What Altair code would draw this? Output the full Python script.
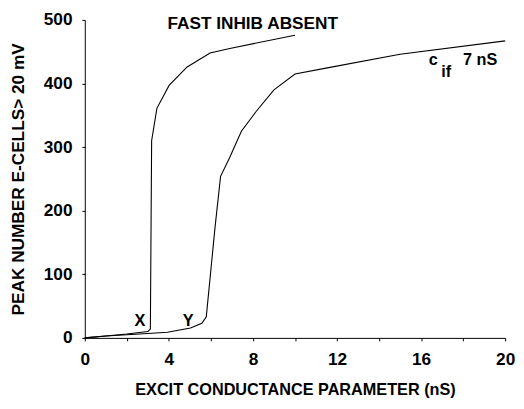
import altair as alt
import pandas as pd

# Curve: fast inhibition absent
x_absent = [0, 1.0, 2.0, 3.0, 3.12, 3.18, 3.43, 4.01, 4.87, 5.96, 6.9, 10.0]
y_absent = [0, 3, 6, 10, 14, 310, 361, 397, 426, 448, 455, 476]

# Curve: c_if = 7 nS
x_cif = [0, 1.0, 2.0, 3.0, 3.93, 5.03, 5.57, 5.78, 6.2, 6.46, 6.9, 7.45, 8.15, 9.0, 10.0, 11.6, 15.0, 20.0]
y_cif = [0, 3, 5, 7, 8.8, 15.5, 23, 33, 175, 254, 284, 325, 356, 390, 415, 425, 446, 467]

x_ticks = [0, 2, 4, 6, 8, 10, 12, 14, 16, 18, 20]
y_ticks = [0, 50, 100, 150, 200, 250, 300, 350, 400, 450, 500]

labels_text = ["FAST INHIB ABSENT", "X", "Y", "c", "7 nS"]
labels_x = [3.93, 2.62, 4.92, 16.58, 17.99]
labels_y = [486, 18.6, 18.6, 428.8, 428.8]
labels_align = ["left", "center", "center", "center", "left"]
labels_size = [17.5, 16.5, 16.5, 16.5, 16.5]

sub_text = ["if"]
sub_x = [17.19]
sub_y = [410]

FONT = "Liberation Sans"

df = pd.concat([
    pd.DataFrame({"x": x_absent, "y": y_absent, "curve": "absent"}),
    pd.DataFrame({"x": x_cif, "y": y_cif, "curve": "cif"}),
])

xs = alt.Scale(domain=[0, 20], nice=False, zero=False)
ys = alt.Scale(domain=[0, 500], nice=False, zero=False)

lines = alt.Chart(df).mark_line(color="black", strokeWidth=1.1).encode(
    x=alt.X("x:Q", scale=xs, title="EXCIT CONDUCTANCE PARAMETER (nS)",
            axis=alt.Axis(values=x_ticks,
                          labelExpr="datum.value % 4 == 0 ? datum.label : ''")),
    y=alt.Y("y:Q", scale=ys, title="PEAK NUMBER E-CELLS> 20 mV",
            axis=alt.Axis(values=y_ticks,
                          labelExpr="datum.value % 100 == 0 ? datum.label : ''")),
    detail="curve:N",
)

lab_df = pd.DataFrame({"t": labels_text, "x": labels_x, "y": labels_y,
                       "a": labels_align, "s": labels_size})
left_df = lab_df[lab_df.a == "left"].reset_index(drop=True)
center_df = lab_df[lab_df.a == "center"].reset_index(drop=True)

text_left = alt.Chart(left_df).mark_text(
    align="left", baseline="alphabetic", font=FONT, fontWeight="bold", color="black"
).encode(x=alt.X("x:Q", scale=xs), y=alt.Y("y:Q", scale=ys), text="t:N",
         size=alt.Size("s:Q", scale=None, legend=None))

text_center = alt.Chart(center_df).mark_text(
    align="center", baseline="alphabetic", font=FONT, fontWeight="bold", color="black"
).encode(x=alt.X("x:Q", scale=xs), y=alt.Y("y:Q", scale=ys), text="t:N",
         size=alt.Size("s:Q", scale=None, legend=None))

sub = alt.Chart(pd.DataFrame({"t": sub_text, "x": sub_x, "y": sub_y})).mark_text(
    align="center", baseline="alphabetic", font=FONT, fontSize=16.5, fontWeight="bold", color="black"
).encode(x=alt.X("x:Q", scale=xs), y=alt.Y("y:Q", scale=ys), text="t:N")

chart = alt.layer(lines, text_left, text_center, sub).properties(
    width=427, height=323,
    autosize=alt.AutoSizeParams(type="none"),
    padding={"left": 78, "top": 9, "right": 11, "bottom": 60},
    background="white",
).configure_view(stroke=None).configure_axis(
    domainColor="black", domainWidth=1, tickColor="black", tickSize=3,
    grid=False, labelFont=FONT, labelFontSize=17.5, labelFontWeight="bold",
    labelColor="black", titleFont=FONT, titleFontWeight="bold",
    titleColor="black",
).configure_axisX(labelPadding=10, titlePadding=14, titleFontSize=16.5,
                  labelFlush=False).configure_axisY(
    labelPadding=10, titlePadding=16, titleFontSize=17.5)

chart.save("out.html", embed_options={"renderer": "svg", "actions": False})
